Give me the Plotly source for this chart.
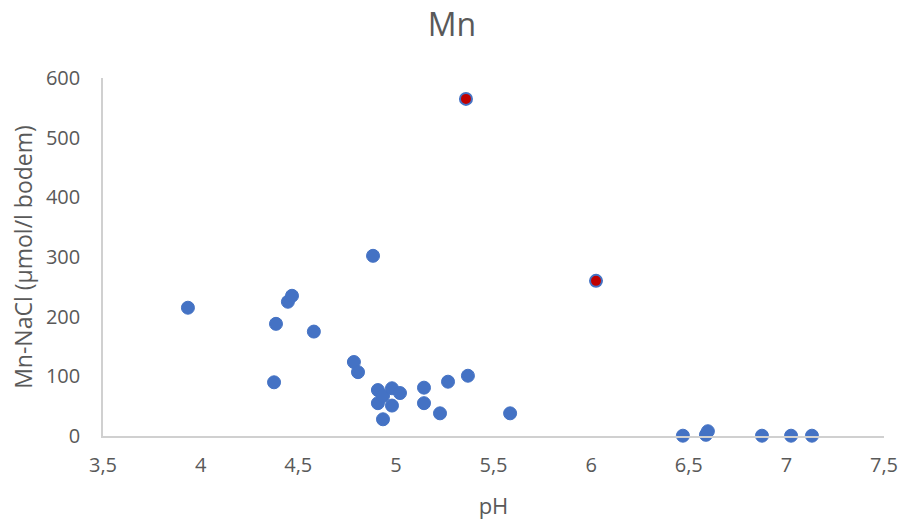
import plotly.graph_objects as go

ph = [3.935, 4.376, 4.386, 4.447, 4.468, 4.58, 4.785, 4.806, 4.883, 4.908, 4.908, 4.934,
      4.934, 4.98, 4.98, 5.021, 5.144, 5.144, 5.226, 5.267, 5.369, 5.585,
      6.47, 6.588, 6.598, 6.875, 7.024, 7.131]
mn = [215, 90, 188, 225, 235, 175, 124, 107, 302, 77, 55, 67,
      28, 80, 51, 72, 81, 55, 38, 91, 101, 38,
      0.5, 2, 8, 0.5, 0.5, 0.5]

ph_red = [5.359, 6.025]
mn_red = [565, 260]

title = "Mn"
x_title = "pH"
y_title = "Mn-NaCl (µmol/l bodem)"

BLUE = "#4472C4"
RED = "#C00000"
GREY = "#595959"
FONT = "Open Sans"

fig = go.Figure()
fig.add_trace(go.Scatter(
    x=ph, y=mn, mode="markers",
    marker=dict(size=13, color=BLUE, line=dict(color=BLUE, width=1)),
    showlegend=False, cliponaxis=False,
))
fig.add_trace(go.Scatter(
    x=ph_red, y=mn_red, mode="markers",
    marker=dict(size=12, color=RED, line=dict(color=BLUE, width=2)),
    showlegend=False, cliponaxis=False,
))

fig.update_layout(
    width=904, height=523,
    margin=dict(l=103, r=20, t=78, b=87, autoexpand=False),
    paper_bgcolor="white", plot_bgcolor="white",
    separators=", ",
    font=dict(family=FONT, color=GREY),
    title=dict(text=title, x=0.5, xanchor="center", y=0.952, yanchor="middle",
               font=dict(size=32, color=GREY, family=FONT)),
    xaxis=dict(
        range=[3.5, 7.5], dtick=0.5, tick0=3.5, showgrid=False, zeroline=False,
        automargin=False,
        showline=True, linecolor="#D0D0D0", linewidth=1.5,
        ticks="outside", ticklen=10, tickcolor="rgba(0,0,0,0)",
        tickfont=dict(size=20, color=GREY, family=FONT),
        title=dict(text=x_title, font=dict(size=22, color=GREY, family=FONT), standoff=22),
    ),
    yaxis=dict(
        range=[0, 600], dtick=100, showgrid=False, zeroline=False,
        automargin=False,
        showline=True, linecolor="#D0D0D0", linewidth=1.5,
        ticks="outside", ticklen=17, tickcolor="rgba(0,0,0,0)",
        tickfont=dict(size=20, color=GREY, family=FONT),
        title=dict(text=y_title, font=dict(size=23, color=GREY, family=FONT), standoff=7),
    ),
)

# remove the browser's default 8px page margin so the figure fills the window
fig.write_html("out.html", config={"displayModeBar": False},
               post_script="document.body.style.margin='0';")
